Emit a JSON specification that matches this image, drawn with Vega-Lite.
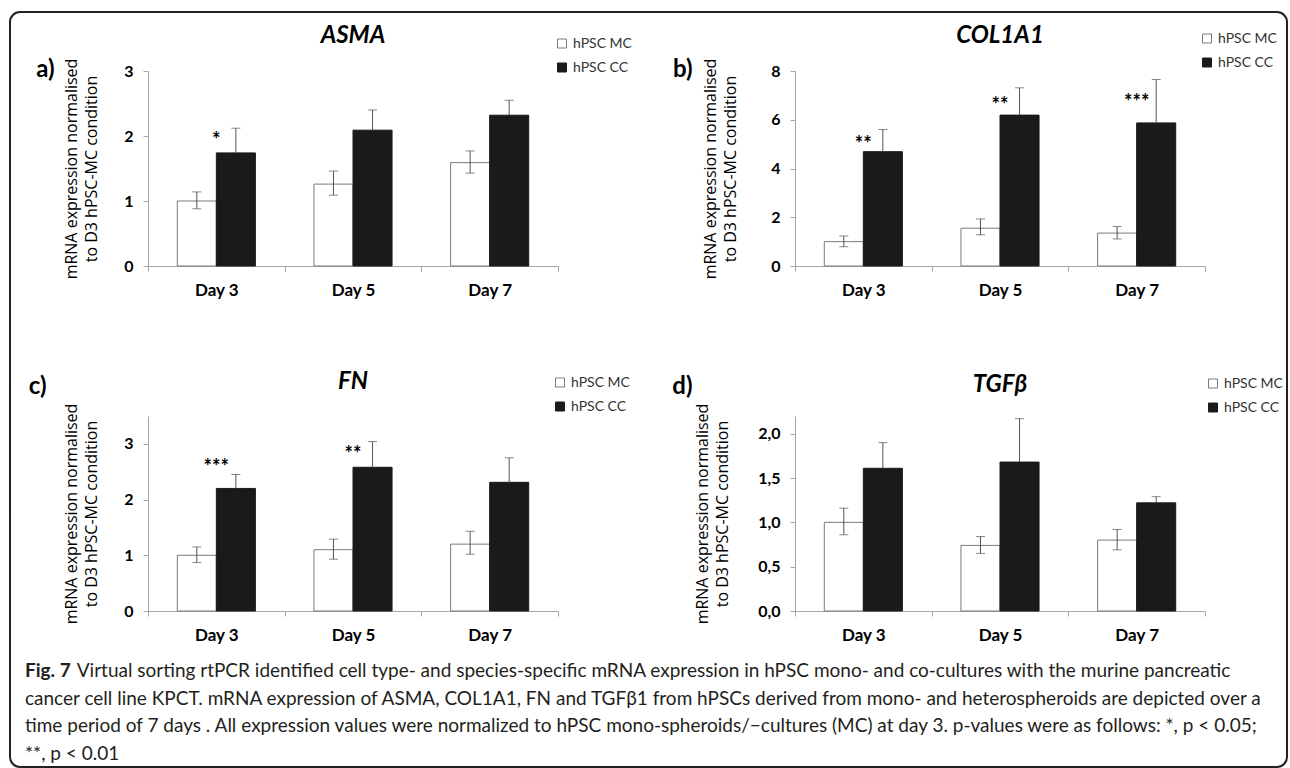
{
  "$schema": "https://vega.github.io/schema/vega-lite/v6.json",
  "background": "white",
  "padding": {"left": 9, "top": 11, "right": 0, "bottom": 0},
  "datasets": {
    "asma": [
      {"day": "Day 3", "group": "hPSC MC", "value": 1.0, "lo": 0.88, "hi": 1.14},
      {"day": "Day 3", "group": "hPSC CC", "value": 1.74, "lo": 1.74, "hi": 2.12},
      {"day": "Day 5", "group": "hPSC MC", "value": 1.26, "lo": 1.09, "hi": 1.46},
      {"day": "Day 5", "group": "hPSC CC", "value": 2.09, "lo": 2.09, "hi": 2.40},
      {"day": "Day 7", "group": "hPSC MC", "value": 1.59, "lo": 1.43, "hi": 1.77},
      {"day": "Day 7", "group": "hPSC CC", "value": 2.32, "lo": 2.32, "hi": 2.55}
    ],
    "col": [
      {"day": "Day 3", "group": "hPSC MC", "value": 1.0, "lo": 0.79, "hi": 1.23},
      {"day": "Day 3", "group": "hPSC CC", "value": 4.69, "lo": 4.69, "hi": 5.60},
      {"day": "Day 5", "group": "hPSC MC", "value": 1.55, "lo": 1.28, "hi": 1.93},
      {"day": "Day 5", "group": "hPSC CC", "value": 6.19, "lo": 6.19, "hi": 7.31},
      {"day": "Day 7", "group": "hPSC MC", "value": 1.35, "lo": 1.11, "hi": 1.62},
      {"day": "Day 7", "group": "hPSC CC", "value": 5.87, "lo": 5.87, "hi": 7.65}
    ],
    "fn": [
      {"day": "Day 3", "group": "hPSC MC", "value": 1.0, "lo": 0.87, "hi": 1.15},
      {"day": "Day 3", "group": "hPSC CC", "value": 2.20, "lo": 2.20, "hi": 2.45},
      {"day": "Day 5", "group": "hPSC MC", "value": 1.10, "lo": 0.93, "hi": 1.29},
      {"day": "Day 5", "group": "hPSC CC", "value": 2.58, "lo": 2.58, "hi": 3.04},
      {"day": "Day 7", "group": "hPSC MC", "value": 1.20, "lo": 1.02, "hi": 1.43},
      {"day": "Day 7", "group": "hPSC CC", "value": 2.31, "lo": 2.31, "hi": 2.75}
    ],
    "tgf": [
      {"day": "Day 3", "group": "hPSC MC", "value": 1.0, "lo": 0.86, "hi": 1.16},
      {"day": "Day 3", "group": "hPSC CC", "value": 1.61, "lo": 1.61, "hi": 1.90},
      {"day": "Day 5", "group": "hPSC MC", "value": 0.74, "lo": 0.65, "hi": 0.84},
      {"day": "Day 5", "group": "hPSC CC", "value": 1.68, "lo": 1.68, "hi": 2.17},
      {"day": "Day 7", "group": "hPSC MC", "value": 0.80, "lo": 0.69, "hi": 0.92},
      {"day": "Day 7", "group": "hPSC CC", "value": 1.22, "lo": 1.22, "hi": 1.29}
    ],
    "asma_sig": [{"day": "Day 3", "label": "*", "pos": 2.02}],
    "col_sig": [
      {"day": "Day 3", "label": "**", "pos": 5.22},
      {"day": "Day 5", "label": "**", "pos": 6.79},
      {"day": "Day 7", "label": "***", "pos": 6.92}
    ],
    "fn_sig": [
      {"day": "Day 3", "label": "***", "pos": 2.68},
      {"day": "Day 5", "label": "**", "pos": 2.91}
    ]
  },
  "columns": 2,
  "spacing": {"row": 150, "column": 237},
  "bounds": "flush",
  "resolve": {"scale": {"fill": "independent", "stroke": "independent"}},
  "title": {
    "text": "Fig. 7",
    "subtitle": [
      "\u2800\u2800\u2800\u00a0\u00a0Virtual sorting rtPCR identified cell type- and species-specific mRNA expression in hPSC mono- and co-cultures with the murine pancreatic",
      "cancer cell line KPCT. mRNA expression of ASMA, COL1A1, FN and TGFβ1 from hPSCs derived from mono- and heterospheroids are depicted over a",
      "time period of 7 days . All expression values were normalized to hPSC mono-spheroids/−cultures (MC) at day 3. p-values were as follows: *, p < 0.05;",
      "**, p < 0.01"
    ],
    "orient": "bottom",
    "anchor": "start",
    "frame": "bounds",
    "baseline": "alphabetic",
    "dx": 16,
    "offset": -91,
    "font": "Lato",
    "fontSize": 19,
    "fontWeight": "bold",
    "fontStyle": "normal",
    "color": "#231f20",
    "subtitleFont": "Lato",
    "subtitleFontSize": 19,
    "subtitleFontWeight": "normal",
    "subtitleFontStyle": "normal",
    "subtitleColor": "#231f20",
    "subtitleLineHeight": 27.5,
    "subtitlePadding": -19
  },
  "concat": [
    {
      "width": 410,
      "height": 195,
      "title": {"text": "ASMA", "offset": -11},
      "resolve": {"axis": {"y": "independent"}},
      "encoding": {
        "x": {"field": "day", "type": "nominal", "sort": ["Day 3", "Day 5", "Day 7"], "scale": {"paddingInner": 0, "paddingOuter": 0}, "axis": {"title": null, "labelAngle": 0, "tickBand": "extent"}}
      },
      "layer": [
        {
          "data": {"name": "asma"},
          "mark": {"type": "bar", "strokeWidth": 1},
          "encoding": {
            "xOffset": {"field": "group", "type": "nominal", "sort": ["hPSC MC", "hPSC CC"], "scale": {"paddingInner": 0, "paddingOuter": 0.75}},
            "y": {"field": "value", "type": "quantitative", "scale": {"domain": [0, 3], "nice": false}, "axis": {"values": [0, 1, 2, 3], "titlePadding": 24, "title": ["mRNA expression normalised", "to D3 hPSC-MC condition"]}},
            "fill": {"field": "group", "type": "nominal", "scale": {"domain": ["hPSC MC", "hPSC CC"], "range": ["#ffffff", "#1a1a1a"]}, "legend": {"orient": "none", "legendX": 407, "legendY": -34.5, "title": null}},
            "stroke": {"field": "group", "type": "nominal", "scale": {"domain": ["hPSC MC", "hPSC CC"], "range": ["#7a7a7a", "#1a1a1a"]}, "legend": {"orient": "none", "legendX": 407, "legendY": -34.5, "title": null}}
          }
        },
        {
          "data": {"name": "asma"},
          "mark": {"type": "rule", "color": "#555555", "strokeWidth": 1},
          "encoding": {
            "xOffset": {"field": "group", "type": "nominal", "sort": ["hPSC MC", "hPSC CC"]},
            "y": {"field": "lo", "type": "quantitative", "axis": null},
            "y2": {"field": "hi"}
          }
        },
        {
          "data": {"name": "asma"},
          "mark": {"type": "tick", "orient": "horizontal", "color": "#555555", "size": 9, "thickness": 1},
          "encoding": {
            "xOffset": {"field": "group", "type": "nominal", "sort": ["hPSC MC", "hPSC CC"]},
            "y": {"field": "hi", "type": "quantitative", "axis": {"orient": "left", "title": "a)", "labels": false, "ticks": false, "domain": false, "grid": false, "titleAngle": 0, "titleX": -94, "titleY": -2, "titleAlign": "right", "titleBaseline": "middle", "titleFont": "Lato", "titleFontSize": 24, "titleFontWeight": "bold", "titleColor": "#000000"}}
          }
        },
        {
          "data": {"name": "asma"},
          "transform": [{"filter": "datum.group == 'hPSC MC'"}],
          "mark": {"type": "tick", "orient": "horizontal", "color": "#555555", "size": 9, "thickness": 1},
          "encoding": {
            "xOffset": {"field": "group", "type": "nominal", "sort": ["hPSC MC", "hPSC CC"]},
            "y": {"field": "lo", "type": "quantitative", "axis": null}
          }
        },
        {
          "data": {"name": "asma_sig"},
          "mark": {"type": "text", "font": "Lato", "fontSize": 20, "fontWeight": "bold", "dy": 6, "color": "#000000"},
          "encoding": {
            "y": {"field": "pos", "type": "quantitative", "axis": null},
            "text": {"field": "label"}
          }
        },
        {
          "data": {"name": "asma_sig"},
          "mark": {"type": "text", "text": ""},
          "encoding": {
            "y": {"field": "pos", "type": "quantitative", "axis": null},
            "color": {"field": "pos", "type": "quantitative", "scale": {"domain": [0, 1], "range": ["#ffffff", "#ffffff"]},
              "legend": {"orient": "none", "legendX": -138, "legendY": -59, "direction": "horizontal", "gradientLength": 1277, "gradientThickness": 754, "gradientOpacity": 0, "gradientStrokeWidth": 0, "gradientStrokeColor": "#ffffff", "title": null, "values": [0], "labelFontSize": 1, "labelOpacity": 0, "labelOffset": 0, "strokeColor": "#222222", "cornerRadius": 10, "padding": 0}}
          }
        }
      ]
    },
    {
      "width": 410,
      "height": 195,
      "title": {"text": "COL1A1", "offset": -16},
      "resolve": {"axis": {"y": "independent"}},
      "encoding": {
        "x": {"field": "day", "type": "nominal", "sort": ["Day 3", "Day 5", "Day 7"], "scale": {"paddingInner": 0, "paddingOuter": 0}, "axis": {"title": null, "labelAngle": 0, "tickBand": "extent"}}
      },
      "layer": [
        {
          "data": {"name": "col"},
          "mark": {"type": "bar", "strokeWidth": 1},
          "encoding": {
            "xOffset": {"field": "group", "type": "nominal", "sort": ["hPSC MC", "hPSC CC"], "scale": {"paddingInner": 0, "paddingOuter": 0.75}},
            "y": {"field": "value", "type": "quantitative", "scale": {"domain": [0, 8], "nice": false}, "axis": {"values": [0, 2, 4, 6, 8], "titlePadding": 32, "title": ["mRNA expression normalised", "to D3 hPSC-MC condition"]}},
            "fill": {"field": "group", "type": "nominal", "scale": {"domain": ["hPSC MC", "hPSC CC"], "range": ["#ffffff", "#1a1a1a"]}, "legend": {"orient": "none", "legendX": 405, "legendY": -39.5, "title": null}},
            "stroke": {"field": "group", "type": "nominal", "scale": {"domain": ["hPSC MC", "hPSC CC"], "range": ["#7a7a7a", "#1a1a1a"]}, "legend": {"orient": "none", "legendX": 405, "legendY": -39.5, "title": null}}
          }
        },
        {
          "data": {"name": "col"},
          "mark": {"type": "rule", "color": "#555555", "strokeWidth": 1},
          "encoding": {
            "xOffset": {"field": "group", "type": "nominal", "sort": ["hPSC MC", "hPSC CC"]},
            "y": {"field": "lo", "type": "quantitative", "axis": null},
            "y2": {"field": "hi"}
          }
        },
        {
          "data": {"name": "col"},
          "mark": {"type": "tick", "orient": "horizontal", "color": "#555555", "size": 9, "thickness": 1},
          "encoding": {
            "xOffset": {"field": "group", "type": "nominal", "sort": ["hPSC MC", "hPSC CC"]},
            "y": {"field": "hi", "type": "quantitative", "axis": {"orient": "left", "title": "b)", "labels": false, "ticks": false, "domain": false, "grid": false, "titleAngle": 0, "titleX": -103, "titleY": -2, "titleAlign": "right", "titleBaseline": "middle", "titleFont": "Lato", "titleFontSize": 24, "titleFontWeight": "bold", "titleColor": "#000000"}}
          }
        },
        {
          "data": {"name": "col"},
          "transform": [{"filter": "datum.group == 'hPSC MC'"}],
          "mark": {"type": "tick", "orient": "horizontal", "color": "#555555", "size": 9, "thickness": 1},
          "encoding": {
            "xOffset": {"field": "group", "type": "nominal", "sort": ["hPSC MC", "hPSC CC"]},
            "y": {"field": "lo", "type": "quantitative", "axis": null}
          }
        },
        {
          "data": {"name": "col_sig"},
          "mark": {"type": "text", "font": "Lato", "fontSize": 20, "fontWeight": "bold", "dy": 6, "color": "#000000"},
          "encoding": {
            "y": {"field": "pos", "type": "quantitative", "axis": null},
            "text": {"field": "label"}
          }
        }
      ]
    },
    {
      "width": 410,
      "height": 195,
      "title": {"text": "FN", "offset": -19.5},
      "resolve": {"axis": {"y": "independent"}},
      "encoding": {
        "x": {"field": "day", "type": "nominal", "sort": ["Day 3", "Day 5", "Day 7"], "scale": {"paddingInner": 0, "paddingOuter": 0}, "axis": {"title": null, "labelAngle": 0, "tickBand": "extent"}}
      },
      "layer": [
        {
          "data": {"name": "fn"},
          "mark": {"type": "bar", "strokeWidth": 1},
          "encoding": {
            "xOffset": {"field": "group", "type": "nominal", "sort": ["hPSC MC", "hPSC CC"], "scale": {"paddingInner": 0, "paddingOuter": 0.75}},
            "y": {"field": "value", "type": "quantitative", "scale": {"domain": [0, 3.5], "nice": false}, "axis": {"values": [0, 1, 2, 3], "titlePadding": 24, "title": ["mRNA expression normalised", "to D3 hPSC-MC condition"]}},
            "fill": {"field": "group", "type": "nominal", "scale": {"domain": ["hPSC MC", "hPSC CC"], "range": ["#ffffff", "#1a1a1a"]}, "legend": {"orient": "none", "legendX": 405, "legendY": -40.5, "title": null}},
            "stroke": {"field": "group", "type": "nominal", "scale": {"domain": ["hPSC MC", "hPSC CC"], "range": ["#7a7a7a", "#1a1a1a"]}, "legend": {"orient": "none", "legendX": 405, "legendY": -40.5, "title": null}}
          }
        },
        {
          "data": {"name": "fn"},
          "mark": {"type": "rule", "color": "#555555", "strokeWidth": 1},
          "encoding": {
            "xOffset": {"field": "group", "type": "nominal", "sort": ["hPSC MC", "hPSC CC"]},
            "y": {"field": "lo", "type": "quantitative", "axis": null},
            "y2": {"field": "hi"}
          }
        },
        {
          "data": {"name": "fn"},
          "mark": {"type": "tick", "orient": "horizontal", "color": "#555555", "size": 9, "thickness": 1},
          "encoding": {
            "xOffset": {"field": "group", "type": "nominal", "sort": ["hPSC MC", "hPSC CC"]},
            "y": {"field": "hi", "type": "quantitative", "axis": {"orient": "left", "title": "c)", "labels": false, "ticks": false, "domain": false, "grid": false, "titleAngle": 0, "titleX": -102, "titleY": -30, "titleAlign": "right", "titleBaseline": "middle", "titleFont": "Lato", "titleFontSize": 24, "titleFontWeight": "bold", "titleColor": "#000000"}}
          }
        },
        {
          "data": {"name": "fn"},
          "transform": [{"filter": "datum.group == 'hPSC MC'"}],
          "mark": {"type": "tick", "orient": "horizontal", "color": "#555555", "size": 9, "thickness": 1},
          "encoding": {
            "xOffset": {"field": "group", "type": "nominal", "sort": ["hPSC MC", "hPSC CC"]},
            "y": {"field": "lo", "type": "quantitative", "axis": null}
          }
        },
        {
          "data": {"name": "fn_sig"},
          "mark": {"type": "text", "font": "Lato", "fontSize": 20, "fontWeight": "bold", "dy": 6, "color": "#000000"},
          "encoding": {
            "y": {"field": "pos", "type": "quantitative", "axis": null},
            "text": {"field": "label"}
          }
        }
      ]
    },
    {
      "width": 410,
      "height": 195,
      "title": {"text": "TGFβ", "offset": -22.5},
      "resolve": {"axis": {"y": "independent"}},
      "encoding": {
        "x": {"field": "day", "type": "nominal", "sort": ["Day 3", "Day 5", "Day 7"], "scale": {"paddingInner": 0, "paddingOuter": 0}, "axis": {"title": null, "labelAngle": 0, "tickBand": "extent"}}
      },
      "layer": [
        {
          "data": {"name": "tgf"},
          "mark": {"type": "bar", "strokeWidth": 1},
          "encoding": {
            "xOffset": {"field": "group", "type": "nominal", "sort": ["hPSC MC", "hPSC CC"], "scale": {"paddingInner": 0, "paddingOuter": 0.75}},
            "y": {"field": "value", "type": "quantitative", "scale": {"domain": [0, 2.2], "nice": false}, "axis": {"values": [0, 0.5, 1, 1.5, 2], "titlePadding": 27, "labelExpr": "replace(format(datum.value, '.1f'), '.', ',')", "title": ["mRNA expression normalised", "to D3 hPSC-MC condition"]}},
            "fill": {"field": "group", "type": "nominal", "scale": {"domain": ["hPSC MC", "hPSC CC"], "range": ["#ffffff", "#1a1a1a"]}, "legend": {"orient": "none", "legendX": 411, "legendY": -39.5, "title": null}},
            "stroke": {"field": "group", "type": "nominal", "scale": {"domain": ["hPSC MC", "hPSC CC"], "range": ["#7a7a7a", "#1a1a1a"]}, "legend": {"orient": "none", "legendX": 411, "legendY": -39.5, "title": null}}
          }
        },
        {
          "data": {"name": "tgf"},
          "mark": {"type": "rule", "color": "#555555", "strokeWidth": 1},
          "encoding": {
            "xOffset": {"field": "group", "type": "nominal", "sort": ["hPSC MC", "hPSC CC"]},
            "y": {"field": "lo", "type": "quantitative", "axis": null},
            "y2": {"field": "hi"}
          }
        },
        {
          "data": {"name": "tgf"},
          "mark": {"type": "tick", "orient": "horizontal", "color": "#555555", "size": 9, "thickness": 1},
          "encoding": {
            "xOffset": {"field": "group", "type": "nominal", "sort": ["hPSC MC", "hPSC CC"]},
            "y": {"field": "hi", "type": "quantitative", "axis": {"orient": "left", "title": "d)", "labels": false, "ticks": false, "domain": false, "grid": false, "titleAngle": 0, "titleX": -103, "titleY": -30, "titleAlign": "right", "titleBaseline": "middle", "titleFont": "Lato", "titleFontSize": 24, "titleFontWeight": "bold", "titleColor": "#000000"}}
          }
        },
        {
          "data": {"name": "tgf"},
          "transform": [{"filter": "datum.group == 'hPSC MC'"}],
          "mark": {"type": "tick", "orient": "horizontal", "color": "#555555", "size": 9, "thickness": 1},
          "encoding": {
            "xOffset": {"field": "group", "type": "nominal", "sort": ["hPSC MC", "hPSC CC"]},
            "y": {"field": "lo", "type": "quantitative", "axis": null}
          }
        }
      ]
    }
  ],
  "config": {
    "view": {"stroke": null},
    "font": "Lato",
    "axis": {"domainColor": "#a6a6a6", "tickColor": "#a6a6a6", "grid": false, "labelFont": "Lato", "labelFontWeight": "bold", "labelColor": "#000000", "tickSize": 5, "domainWidth": 1, "tickWidth": 1},
    "axisX": {"labelFontSize": 17, "labelPadding": 11, "labelAngle": 0},
    "axisY": {"labelFontSize": 16, "labelPadding": 10, "titleFont": "Open Sans", "titleFontSize": 16, "titleFontWeight": "normal", "titleColor": "#000000", "titleLineHeight": 20, "titlePadding": 18},
    "legend": {"symbolType": "square", "symbolSize": 81, "symbolStrokeWidth": 1, "labelFont": "Lato", "labelFontSize": 14, "labelColor": "#333333", "rowPadding": 10, "padding": 0, "labelOffset": 4, "strokeWidth": 2},
    "title": {"font": "Lato", "fontSize": 24, "fontWeight": "bold", "fontStyle": "italic", "color": "#000000", "frame": "group", "baseline": "alphabetic"}
  }
}
